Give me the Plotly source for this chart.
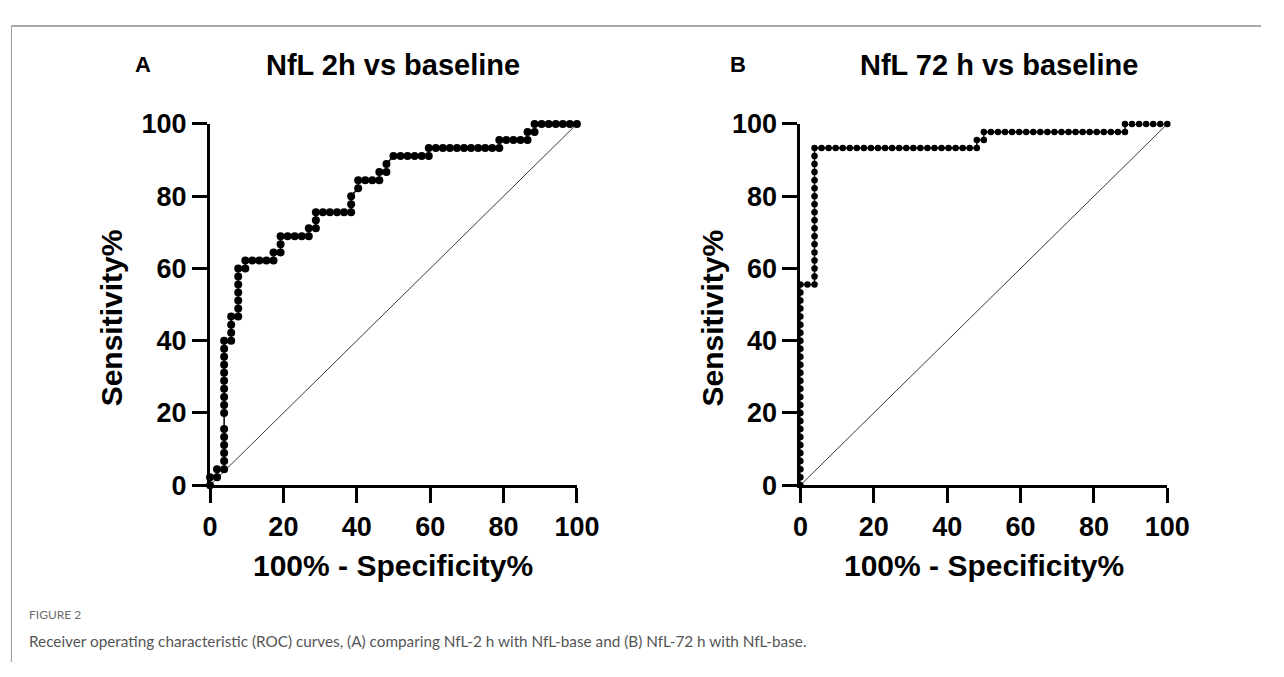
import plotly.graph_objects as go

# ---- Data (percent values) ----
ticks = [0, 20, 40, 60, 80, 100]

a_fpr = [0, 0, 1.92, 1.92, 3.85, 3.85, 3.85, 3.85, 3.85, 3.85, 3.85, 3.85, 3.85, 3.85, 3.85,
         3.85, 3.85, 3.85, 3.85, 3.85, 5.77, 5.77, 5.77, 5.77, 7.69, 7.69, 7.69, 7.69, 7.69,
         7.69, 7.69, 9.62, 9.62, 11.54, 13.46, 15.38, 17.31, 17.31, 19.23, 19.23, 19.23, 21.15,
         23.08, 25.00, 26.92, 26.92, 28.85, 28.85, 28.85, 30.77, 32.69, 34.62, 36.54, 38.46,
         38.46, 38.46, 40.38, 40.38, 42.31, 44.23, 46.15, 46.15, 48.08, 48.08, 50.00, 51.92,
         53.85, 55.77, 57.69, 59.62, 59.62, 61.54, 63.46, 65.38, 67.31, 69.23, 71.15, 73.08,
         75.00, 76.92, 78.85, 78.85, 80.77, 82.69, 84.62, 86.54, 86.54, 88.46, 88.46, 90.38,
         92.31, 94.23, 96.15, 98.08, 100]
a_tpr = [0, 2.22, 2.22, 4.44, 4.44, 6.67, 8.89, 11.11, 13.33, 15.56, 20.00, 22.22, 24.44,
         26.67, 28.89, 31.11, 33.33, 35.56, 37.78, 40.00, 40.00, 42.22, 44.44, 46.67, 46.67,
         48.89, 51.11, 53.33, 55.56, 57.78, 60.00, 60.00, 62.22, 62.22, 62.22, 62.22, 62.22,
         64.44, 64.44, 66.67, 68.89, 68.89, 68.89, 68.89, 68.89, 71.11, 71.11, 73.33, 75.56,
         75.56, 75.56, 75.56, 75.56, 75.56, 77.78, 80.00, 82.22, 84.44, 84.44, 84.44, 84.44,
         86.67, 86.67, 88.89, 91.11, 91.11, 91.11, 91.11, 91.11, 91.11, 93.33, 93.33, 93.33,
         93.33, 93.33, 93.33, 93.33, 93.33, 93.33, 93.33, 93.33, 95.56, 95.56, 95.56, 95.56,
         95.56, 97.78, 97.78, 100, 100, 100, 100, 100, 100, 100]

b_fpr = [0, 0, 0, 0, 0, 0, 0, 0, 0, 0, 0, 0, 0, 0, 0, 0, 0, 0, 0, 0, 0, 0, 0, 0, 0, 0,
         1.92, 3.85, 3.85, 3.85, 3.85, 3.85, 3.85, 3.85, 3.85, 3.85, 3.85, 3.85, 3.85, 3.85,
         3.85, 3.85, 3.85, 3.85, 3.85, 5.77, 7.69, 9.62, 11.54, 13.46, 15.38, 17.31, 19.23,
         21.15, 23.08, 25.00, 26.92, 28.85, 30.77, 32.69, 34.62, 36.54, 38.46, 40.38, 42.31,
         44.23, 46.15, 48.08, 48.08, 50.00, 50.00, 51.92, 53.85, 55.77, 57.69, 59.62, 61.54,
         63.46, 65.38, 67.31, 69.23, 71.15, 73.08, 75.00, 76.92, 78.85, 80.77, 82.69, 84.62,
         86.54, 88.46, 88.46, 90.38, 92.31, 94.23, 96.15, 98.08, 100]
b_tpr = [0, 2.22, 4.44, 6.67, 8.89, 11.11, 13.33, 15.56, 17.78, 20.00, 22.22, 24.44, 26.67,
         28.89, 31.11, 33.33, 35.56, 37.78, 40.00, 42.22, 44.44, 46.67, 48.89, 51.11, 53.33,
         55.56, 55.56, 55.56, 57.78, 60.00, 62.22, 64.44, 66.67, 68.89, 71.11, 73.33, 75.56,
         77.78, 80.00, 82.22, 84.44, 86.67, 88.89, 91.11, 93.33, 93.33, 93.33, 93.33, 93.33,
         93.33, 93.33, 93.33, 93.33, 93.33, 93.33, 93.33, 93.33, 93.33, 93.33, 93.33, 93.33,
         93.33, 93.33, 93.33, 93.33, 93.33, 93.33, 93.33, 95.56, 95.56, 97.78, 97.78, 97.78,
         97.78, 97.78, 97.78, 97.78, 97.78, 97.78, 97.78, 97.78, 97.78, 97.78, 97.78, 97.78,
         97.78, 97.78, 97.78, 97.78, 97.78, 97.78, 100, 100, 100, 100, 100, 100, 100]

ref_line = [0, 100]

titles = ["NfL 2h vs baseline", "NfL 72 h vs baseline"]
panel_letters = ["A", "B"]
x_title = "100% - Specificity%"
y_title = "Sensitivity%"
caption_head = "FIGURE 2"
caption_text = ("Receiver operating characteristic (ROC) curves, (A) comparing NfL-2 h with "
                "NfL-base and (B) NfL-72 h with NfL-base.")

# ---- Figure ----
W, H = 1284, 677
FONT = "Liberation Sans, Arial, sans-serif"
CAP_FONT = "Lato, Open Sans, sans-serif"

fig = go.Figure()

for xa, ya in [("x", "y"), ("x2", "y2")]:
    fig.add_trace(go.Scatter(x=ref_line, y=ref_line, mode="lines", xaxis=xa, yaxis=ya,
                             line=dict(color="#3a3a3a", width=1), showlegend=False,
                             hoverinfo="skip"))

fig.add_trace(go.Scatter(x=a_fpr, y=a_tpr, mode="lines+markers", xaxis="x", yaxis="y",
                         line=dict(color="black", width=1.5),
                         marker=dict(color="black", size=8), cliponaxis=False,
                         showlegend=False))
fig.add_trace(go.Scatter(x=b_fpr, y=b_tpr, mode="lines+markers", xaxis="x2", yaxis="y2",
                         line=dict(color="black", width=1.5),
                         marker=dict(color="black", size=6.5), cliponaxis=False,
                         showlegend=False))


def px_x(p):
    return p / W


def px_y(p):
    return 1 - p / H


ydom = [px_y(492), px_y(114)]
axis_common = dict(range=[0, 100], tickvals=ticks, showline=True, linewidth=3,
                   linecolor="black", ticks="outside", ticklen=15, tickwidth=3,
                   tickcolor="black", showgrid=False, zeroline=False, fixedrange=True,
                   tickfont=dict(family=FONT, size=27, color="black", weight="bold"))

fig.update_layout(
    width=W, height=H,
    margin=dict(l=0, r=0, t=0, b=0),
    paper_bgcolor="white", plot_bgcolor="white",
    hovermode=False,
    xaxis=dict(domain=[px_x(207), px_x(583)], anchor="y", **axis_common),
    yaxis=dict(domain=ydom, anchor="x", **axis_common),
    xaxis2=dict(domain=[px_x(812), px_x(1188)], anchor="y2", **axis_common),
    yaxis2=dict(domain=ydom, anchor="x2", **axis_common),
)

ann = []
title_x = [395, 1016]
xtitle_x = [395, 1000]
letter_x = [138, 748]
ytitle_x = [107, 722]
for k in range(2):
    ann.append(dict(text=titles[k], x=px_x(title_x[k]), y=px_y(52), xref="paper", yref="paper",
                    showarrow=False, xanchor="center", yanchor="middle",
                    font=dict(family=FONT, size=29, color="black", weight="bold")))
    ann.append(dict(text=panel_letters[k], x=px_x(letter_x[k]), y=px_y(52), xref="paper",
                    yref="paper", showarrow=False, xanchor="center", yanchor="middle",
                    font=dict(family=FONT, size=22, color="black", weight="bold")))
    ann.append(dict(text=x_title, x=px_x(xtitle_x[k]), y=px_y(576), xref="paper", yref="paper",
                    showarrow=False, xanchor="center", yanchor="middle",
                    font=dict(family=FONT, size=30, color="black", weight="bold")))
    ann.append(dict(text=y_title, x=px_x(ytitle_x[k]), y=px_y(317), xref="paper", yref="paper",
                    showarrow=False, xanchor="center", yanchor="middle", textangle=-90,
                    font=dict(family=FONT, size=30, color="black", weight="bold")))

ann.append(dict(text=caption_head, x=px_x(19), y=px_y(627), xref="paper", yref="paper",
                showarrow=False, xanchor="left", yanchor="middle",
                font=dict(family=CAP_FONT, size=12, color="#6a6a6a")))
ann.append(dict(text=caption_text, x=px_x(19), y=px_y(655), xref="paper", yref="paper",
                showarrow=False, xanchor="left", yanchor="middle",
                font=dict(family=CAP_FONT, size=15.3, color="#555555")))
fig.update_layout(annotations=ann)

# frame lines (top and left)
fig.add_shape(type="line", xref="paper", yref="paper", x0=px_x(3.5), x1=1,
              y0=px_y(11.5), y1=px_y(11.5), line=dict(color="#a8a8a8", width=2))
fig.add_shape(type="line", xref="paper", yref="paper", x0=px_x(3.5), x1=px_x(3.5),
              y0=px_y(11.5), y1=0, line=dict(color="#9a9a9a", width=1))

fig.write_html("out.html",
               config={"displayModeBar": False, "staticPlot": True},
               post_script="document.body.style.margin='0px';"
                           "document.body.style.overflow='hidden';")
